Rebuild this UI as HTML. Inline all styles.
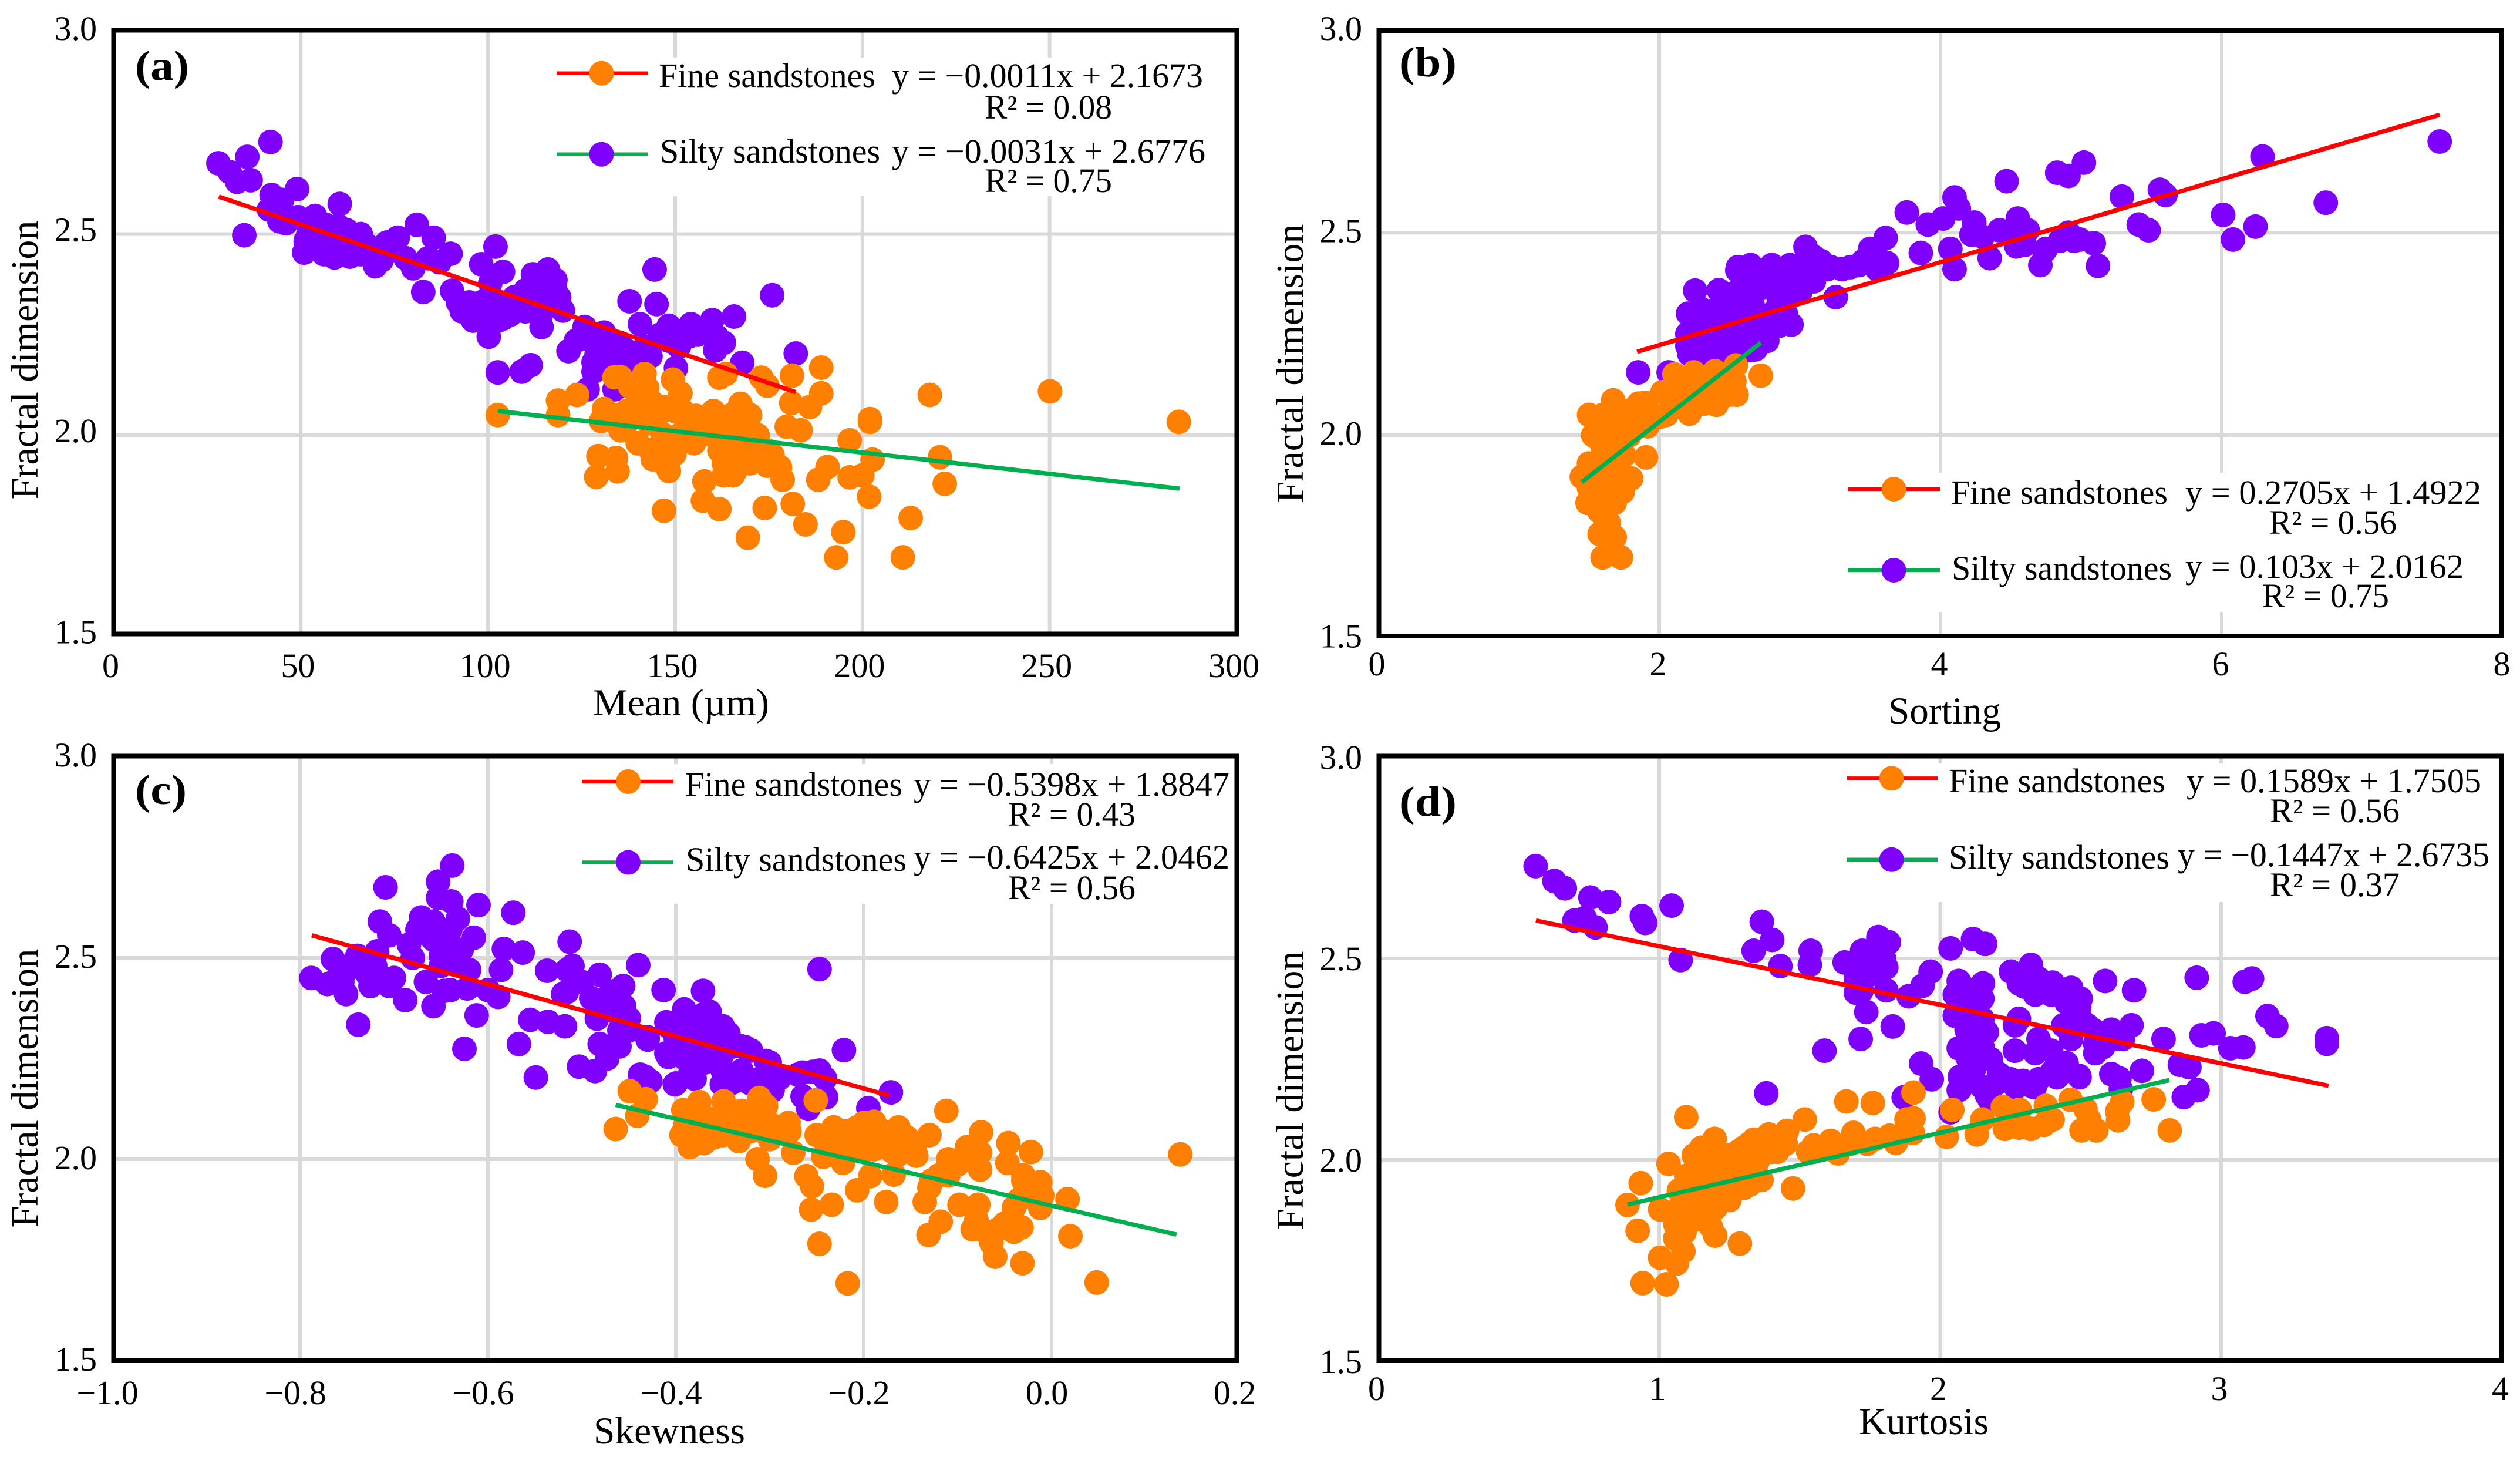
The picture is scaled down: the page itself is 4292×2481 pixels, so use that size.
<!DOCTYPE html>
<html lang="en">
<head>
<meta charset="utf-8">
<title>Fractal dimension versus grain-size parameters</title>
<style>
html,body{margin:0;padding:0;background:#fff;}
svg{display:block;}
text{font-family:"Liberation Serif",serif;fill:#000;}
.tick{font-size:58px;}
.leg{font-size:58px;}
.ttl{font-size:65px;}
.ytl{font-size:66px;}
.pl{font-size:72px;font-weight:bold;}
</style>
</head>
<body>
<svg id="figure" xmlns="http://www.w3.org/2000/svg" width="4292" height="2481" viewBox="0 0 4292 2481">
<rect x="0" y="0" width="4292" height="2481" fill="#fff"/>

<g id="panel-a"></g>
<g id="panel-b"></g>
<g id="panel-c"></g>
<g id="panel-d"></g>

<g>
<text class="pl" x="230" y="136" textLength="92" lengthAdjust="spacingAndGlyphs">(a)</text>
<line x1="948" y1="124.7" x2="1104" y2="124.7" stroke="#ff0000" stroke-width="6.5"/>
<circle cx="1024.5" cy="124.7" r="21" fill="#ff8000"/>
<text class="leg" x="1122" y="148" textLength="369" lengthAdjust="spacingAndGlyphs">Fine sandstones</text>
<text class="leg" x="1519" y="148" textLength="530" lengthAdjust="spacingAndGlyphs">y = −0.0011x + 2.1673</text>
<text class="leg" x="1677" y="202" textLength="217" lengthAdjust="spacingAndGlyphs">R² = 0.08</text>
<line x1="948" y1="262.7" x2="1104" y2="262.7" stroke="#00b050" stroke-width="6.5"/>
<circle cx="1024.5" cy="262.7" r="21" fill="#8000ff"/>
<text class="leg" x="1124" y="277" textLength="375" lengthAdjust="spacingAndGlyphs">Silty sandstones</text>
<text class="leg" x="1519" y="277" textLength="534" lengthAdjust="spacingAndGlyphs">y = −0.0031x + 2.6776</text>
<text class="leg" x="1677" y="327" textLength="217" lengthAdjust="spacingAndGlyphs">R² = 0.75</text>
<text class="ttl" x="1010" y="1218" textLength="300" lengthAdjust="spacingAndGlyphs">Mean (µm)</text>
<text class="ytl" transform="translate(64 613) rotate(-90)" text-anchor="middle">Fractal dimension</text>
</g>

<g>
<text class="pl" x="2383" y="130" textLength="98" lengthAdjust="spacingAndGlyphs">(b)</text>
<line x1="3148" y1="833" x2="3304" y2="833" stroke="#ff0000" stroke-width="6.5"/>
<circle cx="3225.5" cy="833" r="21" fill="#ff8000"/>
<text class="leg" x="3323" y="858" textLength="369" lengthAdjust="spacingAndGlyphs">Fine sandstones</text>
<text class="leg" x="3722" y="858" textLength="504" lengthAdjust="spacingAndGlyphs">y = 0.2705x + 1.4922</text>
<text class="leg" x="3865" y="909" textLength="217" lengthAdjust="spacingAndGlyphs">R² = 0.56</text>
<line x1="3148" y1="971" x2="3304" y2="971" stroke="#00b050" stroke-width="6.5"/>
<circle cx="3225.5" cy="971" r="21" fill="#8000ff"/>
<text class="leg" x="3324" y="987" textLength="375" lengthAdjust="spacingAndGlyphs">Silty sandstones</text>
<text class="leg" x="3722" y="984" textLength="474" lengthAdjust="spacingAndGlyphs">y = 0.103x + 2.0162</text>
<text class="leg" x="3853" y="1034" textLength="216" lengthAdjust="spacingAndGlyphs">R² = 0.75</text>
<text class="ttl" x="3216" y="1232" textLength="192" lengthAdjust="spacingAndGlyphs">Sorting</text>
<text class="ytl" transform="translate(2219 619) rotate(-90)" text-anchor="middle">Fractal dimension</text>
</g>

<g>
<text class="pl" x="230" y="1369" textLength="88" lengthAdjust="spacingAndGlyphs">(c)</text>
<line x1="992" y1="1331" x2="1147" y2="1331" stroke="#ff0000" stroke-width="6.5"/>
<circle cx="1070" cy="1331" r="21" fill="#ff8000"/>
<text class="leg" x="1167" y="1355" textLength="370" lengthAdjust="spacingAndGlyphs">Fine sandstones</text>
<text class="leg" x="1556" y="1355" textLength="538" lengthAdjust="spacingAndGlyphs">y = −0.5398x + 1.8847</text>
<text class="leg" x="1717" y="1406" textLength="217" lengthAdjust="spacingAndGlyphs">R² = 0.43</text>
<line x1="992" y1="1468.5" x2="1147" y2="1468.5" stroke="#00b050" stroke-width="6.5"/>
<circle cx="1070" cy="1468.5" r="21" fill="#8000ff"/>
<text class="leg" x="1168" y="1483" textLength="376" lengthAdjust="spacingAndGlyphs">Silty sandstones</text>
<text class="leg" x="1556" y="1479" textLength="538" lengthAdjust="spacingAndGlyphs">y = −0.6425x + 2.0462</text>
<text class="leg" x="1717" y="1531" textLength="217" lengthAdjust="spacingAndGlyphs">R² = 0.56</text>
<text class="ttl" x="1011" y="2458" textLength="258" lengthAdjust="spacingAndGlyphs">Skewness</text>
<text class="ytl" transform="translate(64 1853) rotate(-90)" text-anchor="middle">Fractal dimension</text>
</g>

<g>
<text class="pl" x="2383" y="1389" textLength="98" lengthAdjust="spacingAndGlyphs">(d)</text>
<line x1="3145" y1="1325.4" x2="3300" y2="1325.4" stroke="#ff0000" stroke-width="6.5"/>
<circle cx="3221.7" cy="1325.4" r="21" fill="#ff8000"/>
<text class="leg" x="3319" y="1349" textLength="369" lengthAdjust="spacingAndGlyphs">Fine sandstones</text>
<text class="leg" x="3724" y="1349" textLength="502" lengthAdjust="spacingAndGlyphs">y = 0.1589x + 1.7505</text>
<text class="leg" x="3866" y="1400" textLength="221" lengthAdjust="spacingAndGlyphs">R² = 0.56</text>
<line x1="3145" y1="1463.8" x2="3300" y2="1463.8" stroke="#00b050" stroke-width="6.5"/>
<circle cx="3221.7" cy="1463.8" r="21" fill="#8000ff"/>
<text class="leg" x="3319" y="1479" textLength="376" lengthAdjust="spacingAndGlyphs">Silty sandstones</text>
<text class="leg" x="3709" y="1475" textLength="531" lengthAdjust="spacingAndGlyphs">y = −0.1447x + 2.6735</text>
<text class="leg" x="3866" y="1526" textLength="221" lengthAdjust="spacingAndGlyphs">R² = 0.37</text>
<text class="ttl" x="3166" y="2442" textLength="221" lengthAdjust="spacingAndGlyphs">Kurtosis</text>
<text class="ytl" transform="translate(2219 1857) rotate(-90)" text-anchor="middle">Fractal dimension</text>
</g>
</svg>

<script>
/* ---------- tick labels ---------- */
const yTickValues = [3.0, 2.5, 2.0, 1.5];
const aXTicks = [0, 50, 100, 150, 200, 250, 300];
const bXTicks = [0, 2, 4, 6, 8];
const cXTicks = [-1.0, -0.8, -0.6, -0.4, -0.2, 0.0, 0.2];
const dXTicks = [0, 1, 2, 3, 4];

/* ---------- panel (a): mean vs fractal dimension ---------- */
const aSilty = [[28,2.676],[31,2.654],[33,2.63],[35.7,2.692],[41.9,2.729],[36.6,2.634],[34.9,2.497],[49,2.612],[42.2,2.597],[45,2.585],[41.5,2.561],[44.3,2.532],[46,2.527],[60.4,2.575],[49.2,2.542],[53.8,2.545],[56.6,2.523],[62.2,2.51],[65.4,2.494],[50.9,2.454],[51.3,2.483],[56.2,2.45],[59,2.442],[63.1,2.444],[66,2.45],[55,2.5],[60,2.48],[65,2.47],[70,2.45],[69.9,2.42],[71.6,2.435],[73,2.479],[75.9,2.491],[78,2.44],[81,2.523],[84,2.44],[85.5,2.491],[90,2.451],[80,2.415],[82.7,2.356],[87,2.43],[90.4,2.359],[98.2,2.425],[102,2.469],[104,2.406],[100.6,2.378],[93,2.308],[96,2.285],[100.2,2.245],[102.7,2.285],[98.4,2.331],[107,2.343],[112,2.4],[116,2.412],[118,2.386],[119,2.343],[112,2.378],[114,2.297],[114.3,2.269],[110,2.308],[103,2.331],[102.6,2.156],[109,2.158],[111.4,2.174],[137.8,2.333],[145,2.326],[175.9,2.348],[140.6,2.276],[148.3,2.272],[154.2,2.276],[159.9,2.286],[165.7,2.295],[161,2.246],[160.7,2.211],[153.8,2.246],[148.3,2.235],[140.3,2.206],[143.4,2.196],[150.2,2.167],[167.9,2.18],[182.2,2.203],[125.8,2.269],[131,2.255],[123.5,2.235],[121.5,2.209],[130.5,2.216],[128.2,2.181],[134,2.2],[128.2,2.158],[135,2.18],[126.6,2.114],[133.8,2.114],[144.5,2.412],[106,2.3],[100,2.3],[126,2.24],[52,2.5],[54,2.47],[58,2.5],[62,2.47],[66,2.5],[68,2.47],[72,2.46],[55,2.52],[60,2.52],[95,2.33],[100,2.34],[105,2.33],[108,2.31],[112,2.33],[116,2.33],[104,2.29],[98,2.3],[92,2.33],[118,2.36],[115,2.37],[110,2.36],[120,2.31],[127,2.24],[131,2.23],[135,2.23],[137,2.21],[133,2.18],[129,2.2],[138,2.19],[142,2.22],[146,2.25],[139,2.17],[156,2.25],[151,2.22],[163,2.23]];
const aFine = [[102.6,2.05],[123.8,2.1],[118.7,2.086],[118.7,2.05],[131,2.065],[130.2,2.035],[135.4,2.012],[135.4,2.144],[133.8,2.144],[141.8,2.152],[142.5,2.118],[141,2.085],[139.5,2.05],[144,2.08],[149.4,2.138],[151.4,2.104],[145.8,2.055],[161.8,2.143],[163.5,2.152],[173,2.143],[174.6,2.123],[181.2,2.148],[189,2.168],[189,2.104],[181,2.08],[186,2.07],[179.8,2.021],[183.5,2.012],[167.4,2.078],[160.2,2.06],[155.5,2.048],[150,2.06],[166.6,2.035],[167.4,2.012],[202,2.04],[202,2.033],[196.6,1.987],[146.7,2.002],[151.4,2.002],[153.8,1.99],[143.4,1.962],[147.5,1.948],[149.8,1.953],[148.3,1.911],[144,1.94],[129.5,1.948],[134.2,1.943],[128.9,1.896],[134.6,1.91],[147,1.812],[157.8,1.885],[157.4,1.837],[161.8,1.816],[161.8,1.962],[160,2.0],[165.4,1.9],[163,1.9],[169.8,1.962],[172,1.96],[174.6,1.962],[174.6,1.924],[178.7,1.889],[173.9,1.819],[181.4,1.829],[169.4,1.745],[184.8,1.778],[194.9,1.759],[193,1.696],[201.8,1.847],[190.7,1.921],[188.2,1.889],[196.6,1.895],[202.7,1.939],[200,1.9],[220.7,1.945],[222,1.879],[212.9,1.794],[210.8,1.696],[218,2.1],[250.1,2.109],[284.5,2.033],[170,2.0],[164,2.02],[158,2.02],[137,2.03],[143,2.03],[138,2.12],[140,2.1],[142,2.06],[147,2.07],[152,2.06],[137,2.06],[135,2.05],[140,1.98],[146,1.97],[150,1.98],[155,2.02],[165,2.05],[170,2.05],[168,2.04],[165,1.99],[172,2.0],[168,1.98],[176,1.95],[165,1.96],[170,1.93],[178,1.92],[163,1.93],[166,1.91],[155,1.98],[147,1.93]];
const aRedX = [28.1, 182.2];
const aRedY = [2.593, 2.107];
const aGreenX = [102.6, 284.7];
const aGreenY = [2.06, 1.867];

/* ---------- panel (b): sorting vs fractal dimension ---------- */
const bSilty = [[1.85,2.155],[2.067,2.155],[2.255,2.357],[2.424,2.358],[2.205,2.3],[2.555,2.407],[2.737,2.405],[2.927,2.405],[3.0,2.35],[2.94,2.273],[3.255,2.341],[2.28,2.261],[2.236,2.222],[2.45,2.267],[2.663,2.267],[2.768,2.233],[2.685,2.212],[2.514,2.2],[2.342,2.2],[2.215,2.2],[2.45,2.311],[2.663,2.322],[2.876,2.333],[2.555,2.355],[2.768,2.366],[2.98,2.377],[2.342,2.255],[2.3,2.311],[3.195,2.41],[2.56,2.415],[2.71,2.4],[2.93,2.42],[3.04,2.465],[3.1,2.44],[3.22,2.415],[3.36,2.415],[3.5,2.44],[3.61,2.487],[3.62,2.425],[3.76,2.55],[3.91,2.52],[3.86,2.45],[4.02,2.535],[4.1,2.587],[4.13,2.56],[4.07,2.46],[4.1,2.41],[4.24,2.525],[4.22,2.495],[4.35,2.437],[4.42,2.506],[4.47,2.627],[4.55,2.535],[4.62,2.506],[4.54,2.466],[4.71,2.42],[4.74,2.455],[4.83,2.648],[4.91,2.64],[5.02,2.673],[4.91,2.5],[4.99,2.483],[5.09,2.474],[5.12,2.418],[5.29,2.589],[5.41,2.52],[5.48,2.506],[5.56,2.606],[5.6,2.593],[6.01,2.544],[6.08,2.483],[6.24,2.515],[6.29,2.688],[6.74,2.574],[7.55,2.725],[3.42,2.42],[3.55,2.41],[2.2,2.25],[2.3,2.22],[2.35,2.28],[2.4,2.25],[2.5,2.25],[2.55,2.3],[2.6,2.25],[2.7,2.3],[2.75,2.28],[2.8,2.3],[2.85,2.33],[2.6,2.35],[2.7,2.36],[2.5,2.34],[2.4,2.31],[2.85,2.27],[2.9,2.3],[2.55,2.22],[2.45,2.21],[2.65,2.21],[2.2,2.22],[2.95,2.35],[3.05,2.38],[3.1,2.38],[2.85,2.38],[2.6,2.38],[2.8,2.42],[2.9,2.38],[3.0,2.42],[3.1,2.42],[2.65,2.42],[3.15,2.43],[3.45,2.43],[3.5,2.46],[3.58,2.43],[3.3,2.41],[4.3,2.49],[4.6,2.47],[4.75,2.46],[4.85,2.48],[4.95,2.48],[4.5,2.5]];
const bFine = [[1.597,1.698],[1.728,1.698],[1.576,1.756],[1.683,1.748],[1.64,1.784],[1.524,1.833],[1.683,1.833],[1.576,1.811],[1.49,1.833],[1.449,1.897],[1.8,1.893],[1.72,1.89],[1.906,1.945],[1.553,1.933],[1.553,1.994],[1.501,2.05],[1.672,2.086],[1.854,2.078],[2.023,2.106],[2.108,2.15],[2.246,2.155],[2.396,2.158],[2.534,2.133],[2.545,2.172],[2.722,2.147],[2.407,2.075],[2.215,2.053],[2.32,2.078],[2.0,2.045],[1.916,2.022],[1.789,2.0],[1.662,1.978],[1.704,1.933],[1.64,1.895],[1.789,2.061],[2.13,2.11],[2.25,2.11],[2.4,2.11],[2.514,2.155],[1.92,2.06],[1.82,2.02],[1.6,1.93],[1.6,1.86],[1.74,1.86],[1.62,2.0],[1.72,2.03],[2.3,2.12],[1.6,2.05],[1.7,2.05],[1.8,2.04],[1.6,1.97],[1.7,1.97],[1.85,2.05],[1.9,2.08],[1.6,1.9],[1.7,1.9],[1.55,1.87],[1.65,1.85],[1.6,1.82],[1.5,1.87],[1.95,2.05],[2.05,2.05],[2.1,2.08],[2.2,2.09],[2.3,2.13],[2.4,2.13],[2.5,2.1],[2.55,2.1],[1.75,1.95],[1.5,1.93],[1.53,2.0]];
const bRedX = [1.842, 7.55];
const bRedY = [2.206, 2.791];
const bGreenX = [1.449, 2.722];
const bGreenY = [1.884, 2.228];

/* ---------- panel (c): skewness vs fractal dimension ---------- */
const cSilty = [[-0.788,2.45],[-0.771,2.435],[-0.765,2.497],[-0.76,2.45],[-0.751,2.41],[-0.738,2.334],[-0.739,2.505],[-0.718,2.516],[-0.715,2.59],[-0.709,2.675],[-0.705,2.556],[-0.728,2.458],[-0.72,2.44],[-0.705,2.43],[-0.688,2.395],[-0.684,2.533],[-0.671,2.6],[-0.675,2.57],[-0.658,2.59],[-0.658,2.545],[-0.666,2.44],[-0.658,2.38],[-0.647,2.418],[-0.653,2.689],[-0.638,2.729],[-0.653,2.649],[-0.639,2.64],[-0.61,2.631],[-0.632,2.597],[-0.615,2.55],[-0.628,2.52],[-0.64,2.487],[-0.65,2.505],[-0.622,2.424],[-0.612,2.357],[-0.625,2.274],[-0.589,2.403],[-0.586,2.47],[-0.583,2.522],[-0.573,2.612],[-0.563,2.513],[-0.555,2.346],[-0.567,2.286],[-0.549,2.203],[-0.537,2.468],[-0.536,2.341],[-0.518,2.33],[-0.516,2.47],[-0.513,2.54],[-0.516,2.415],[-0.503,2.23],[-0.486,2.219],[-0.481,2.458],[-0.49,2.4],[-0.473,2.25],[-0.481,2.286],[-0.484,2.349],[-0.46,2.32],[-0.464,2.418],[-0.456,2.43],[-0.44,2.482],[-0.438,2.21],[-0.427,2.194],[-0.43,2.303],[-0.413,2.42],[-0.408,2.33],[-0.41,2.263],[-0.4,2.188],[-0.391,2.372],[-0.371,2.418],[-0.364,2.366],[-0.387,2.264],[-0.38,2.2],[-0.401,2.186],[-0.351,2.186],[-0.322,2.19],[-0.297,2.171],[-0.326,2.278],[-0.304,2.244],[-0.351,2.258],[-0.408,2.254],[-0.365,2.297],[-0.344,2.312],[-0.43,2.297],[-0.38,2.33],[-0.35,2.33],[-0.33,2.28],[-0.247,2.472],[-0.221,2.271],[-0.27,2.21],[-0.254,2.217],[-0.241,2.2],[-0.265,2.215],[-0.247,2.22],[-0.265,2.156],[-0.24,2.154],[-0.259,2.125],[-0.195,2.127],[-0.171,2.166],[-0.433,2.205],[-0.4,2.3],[-0.38,2.28],[-0.36,2.3],[-0.34,2.28],[-0.32,2.27],[-0.3,2.24],[-0.39,2.25],[-0.37,2.24],[-0.35,2.22],[-0.33,2.22],[-0.31,2.2],[-0.29,2.2],[-0.36,2.34],[-0.37,2.36],[-0.39,2.34],[-0.385,2.21],[-0.34,2.19],[-0.41,2.34],[-0.45,2.35],[-0.46,2.28],[-0.66,2.55],[-0.67,2.57],[-0.645,2.53],[-0.64,2.57],[-0.65,2.48],[-0.68,2.5],[-0.72,2.48],[-0.725,2.43],[-0.7,2.45],[-0.64,2.42],[-0.62,2.47],[-0.6,2.42],[-0.51,2.48],[-0.5,2.44],[-0.52,2.41],[-0.47,2.37],[-0.455,2.38],[-0.47,2.41],[-0.45,2.32],[-0.73,2.49],[-0.755,2.44],[-0.75,2.47]];
const cFine = [[-0.464,2.075],[-0.449,2.169],[-0.432,2.149],[-0.441,2.108],[-0.392,2.122],[-0.375,2.142],[-0.349,2.144],[-0.39,2.084],[-0.385,2.03],[-0.394,2.06],[-0.36,2.054],[-0.333,2.045],[-0.311,2.152],[-0.304,2.132],[-0.319,2.108],[-0.279,2.069],[-0.275,2.016],[-0.313,2.0],[-0.305,1.959],[-0.297,2.084],[-0.35,2.09],[-0.325,2.1],[-0.251,2.146],[-0.232,2.079],[-0.25,2.06],[-0.189,2.093],[-0.207,2.079],[-0.163,2.079],[-0.13,2.06],[-0.154,2.054],[-0.218,2.035],[-0.189,2.025],[-0.164,2.01],[-0.144,2.009],[-0.243,2.006],[-0.222,1.991],[-0.261,1.958],[-0.255,1.933],[-0.207,1.923],[-0.193,1.958],[-0.168,1.962],[-0.176,1.894],[-0.256,1.875],[-0.234,1.887],[-0.247,1.79],[-0.217,1.692],[-0.131,1.812],[-0.118,1.845],[-0.098,1.887],[-0.078,1.887],[-0.135,1.894],[-0.128,1.947],[-0.1,1.987],[-0.076,1.974],[-0.075,2.067],[-0.076,2.016],[-0.112,2.12],[-0.046,2.04],[-0.047,1.991],[-0.022,2.018],[-0.03,1.947],[-0.012,1.943],[-0.035,1.899],[-0.012,1.879],[0.017,1.901],[0.02,1.809],[-0.032,1.831],[-0.057,1.826],[-0.084,1.826],[-0.06,1.758],[-0.031,1.742],[0.048,1.694],[-0.064,1.792],[0.137,2.012],[-0.21,2.06],[-0.18,2.05],[-0.11,2.0],[-0.09,2.01],[-0.375,2.1],[-0.36,2.1],[-0.34,2.08],[-0.32,2.07],[-0.3,2.05],[-0.29,2.07],[-0.35,2.06],[-0.37,2.04],[-0.33,2.12],[-0.31,2.1],[-0.28,2.09],[-0.385,2.05],[-0.38,2.08],[-0.23,2.04],[-0.21,2.05],[-0.19,2.04],[-0.17,2.04],[-0.22,2.07],[-0.2,2.09],[-0.18,2.07],[-0.15,2.03],[-0.17,2.02],[-0.145,2.04],[-0.24,2.04],[-0.2,2.02],[-0.185,2.07],[-0.16,2.05],[-0.09,2.0],[-0.08,1.99],[-0.09,2.03],[-0.105,1.99],[-0.03,1.96],[-0.02,1.93],[-0.01,1.91],[-0.03,1.91],[-0.04,1.88],[-0.08,1.85],[-0.07,1.82],[-0.05,1.84],[-0.04,1.82],[-0.13,1.93],[-0.12,1.96],[-0.11,1.96]];
const cRedX = [-0.7875, -0.1725];
const cRedY = [2.556, 2.158];
const cGreenX = [-0.464, 0.133];
const cGreenY = [2.135, 1.813];

/* ---------- panel (d): kurtosis vs fractal dimension ---------- */
const dSilty = [[0.56,2.729],[0.627,2.692],[0.664,2.674],[0.755,2.651],[0.821,2.64],[0.698,2.594],[0.735,2.6],[0.773,2.577],[0.938,2.605],[0.95,2.588],[1.044,2.631],[1.076,2.496],[1.365,2.591],[1.402,2.546],[1.336,2.519],[1.431,2.481],[1.539,2.519],[1.536,2.484],[1.7,2.415],[1.737,2.367],[1.66,2.49],[1.722,2.519],[1.78,2.553],[1.817,2.54],[1.808,2.478],[1.808,2.421],[1.888,2.406],[1.937,2.432],[1.966,2.467],[1.831,2.331],[1.717,2.3],[1.588,2.271],[1.381,2.165],[2.037,2.525],[2.117,2.548],[2.16,2.536],[2.066,2.444],[2.052,2.41],[2.152,2.438],[2.052,2.358],[2.094,2.323],[2.152,2.277],[2.066,2.277],[2.166,2.317],[2.252,2.467],[2.323,2.484],[2.28,2.438],[2.338,2.41],[2.395,2.41],[2.466,2.427],[2.495,2.38],[2.587,2.444],[2.69,2.421],[2.438,2.334],[2.524,2.334],[2.609,2.323],[2.681,2.334],[2.466,2.3],[2.552,2.288],[2.795,2.3],[2.718,2.221],[2.853,2.236],[2.887,2.23],[2.867,2.156],[2.916,2.173],[2.913,2.452],[3.084,2.442],[3.11,2.45],[3.165,2.357],[3.196,2.332],[2.93,2.309],[2.973,2.314],[3.033,2.277],[3.079,2.279],[3.376,2.288],[3.376,2.302],[2.266,2.334],[2.266,2.271],[2.338,2.265],[2.395,2.271],[2.495,2.208],[2.409,2.208],[2.295,2.196],[2.209,2.213],[2.123,2.23],[2.066,2.173],[2.166,2.161],[2.323,2.184],[2.609,2.213],[2.638,2.202],[2.552,2.265],[1.932,2.239],[1.97,2.2],[1.87,2.155],[2.037,2.118],[2.07,2.175],[2.11,2.277],[2.12,2.226],[2.176,2.149],[2.269,2.18],[2.416,2.205],[2.496,2.205],[2.643,2.175],[2.336,2.18],[2.203,2.195],[2.07,2.206],[2.1,2.33],[2.15,2.35],[2.1,2.25],[2.18,2.25],[2.12,2.2],[2.2,2.19],[2.25,2.2],[2.35,2.2],[2.4,2.22],[2.45,2.24],[2.15,2.18],[2.1,2.38],[2.15,2.4],[2.08,2.43],[2.35,2.45],[2.4,2.44],[2.3,2.43],[2.45,2.39],[2.5,2.4],[2.5,2.35],[2.55,2.32],[2.58,2.28],[2.62,2.3],[2.65,2.3],[2.28,2.35],[2.35,2.3],[2.1,2.3],[1.72,2.48],[1.75,2.46],[1.78,2.5],[1.8,2.5],[1.7,2.45],[1.72,2.42]];
const dFine = [[0.887,1.888],[0.934,1.942],[0.923,1.824],[0.941,1.694],[1.026,1.691],[1.003,1.757],[1.063,1.743],[1.086,1.773],[1.096,2.106],[1.033,1.99],[1.199,1.812],[1.183,1.835],[1.287,1.792],[1.476,1.929],[1.518,2.1],[1.666,2.145],[1.76,2.141],[1.905,2.167],[1.905,2.103],[2.817,2.073],[2.76,2.15],[2.648,2.144],[2.633,2.098],[2.556,2.073],[2.503,2.073],[2.517,2.126],[2.464,2.149],[2.376,2.134],[2.369,2.087],[2.283,2.124],[2.223,2.131],[2.323,2.077],[2.23,2.077],[2.15,2.1],[2.13,2.063],[2.043,2.124],[2.023,2.057],[1.903,2.067],[1.842,2.042],[1.769,2.052],[1.691,2.067],[1.61,2.047],[1.55,2.036],[1.53,2.02],[1.636,2.016],[1.455,2.072],[1.337,2.05],[1.39,2.063],[1.197,2.052],[1.123,2.011],[1.243,2.011],[1.35,1.996],[1.364,1.95],[1.323,1.939],[1.256,1.97],[1.177,1.97],[1.096,1.96],[1.216,1.894],[1.07,1.924],[1.003,1.877],[1.11,1.887],[1.057,1.841],[1.057,1.805],[1.09,1.82],[1.16,1.92],[1.2,2.0],[1.3,2.03],[1.14,1.87],[1.42,2.02],[1.15,2.03],[1.25,1.9],[1.12,1.97],[1.16,2.03],[1.22,2.0],[1.25,1.95],[1.2,1.95],[1.12,1.93],[1.28,1.98],[1.15,1.9],[1.2,1.88],[1.23,1.9],[1.3,1.93],[1.32,2.0],[1.32,2.04],[1.38,2.03],[1.4,2.02],[1.12,1.85],[1.08,1.85],[1.08,1.82],[1.05,1.87],[1.15,2.0],[1.28,2.02],[1.45,2.04],[1.55,2.02],[1.6,2.03],[1.68,2.04],[1.74,2.04],[1.82,2.06],[1.88,2.1],[2.28,2.08],[2.4,2.1],[2.63,2.12],[2.53,2.1]];
const dRedX = [0.561, 3.382];
const dRedY = [2.594, 2.184];
const dGreenX = [0.887, 2.816];
const dGreenY = [1.889, 2.198];

/* ---------- layout (pixels, not data) ---------- */
const panels = [
  {id:'panel-a', frame:[193.5,51.5,2106.5,1079.5], xPx:[193.5,2106.5], xDom:[0,300], yPx:[56.2,1083.4], xTicks:aXTicks, fmt:function(v){return String(v);}, silty:aSilty, fine:aFine, redX:aRedX, redY:aRedY, greenX:aGreenX, greenY:aGreenY, box:[935,98,1165,236], xBase:1153, xNudge:-5, yRight:165, yNudge:12},
  {id:'panel-b', frame:[2348.5,52,4260,1083], xPx:[2347,4263], xDom:[0,8], yPx:[51.4,1085.8], xTicks:bXTicks, fmt:function(v){return String(v);}, silty:bSilty, fine:bFine, redX:bRedX, redY:bRedY, greenX:bGreenX, greenY:bGreenY, box:[3135,805,1115,237], xBase:1150, xNudge:-2, yRight:2320, yNudge:16.5},
  {id:'panel-c', frame:[193.5,1287.5,2106.5,2317], xPx:[191,2111], xDom:[-1,0.2], yPx:[1288,2317], xTicks:cXTicks, fmt:function(v){return v.toFixed(1).replace('-','\u2212');}, silty:cSilty, fine:cFine, redX:cRedX, redY:cRedY, greenX:cGreenX, greenY:cGreenY, box:[980,1301,1120,238], xBase:2391, xNudge:-8, yRight:165, yNudge:17},
  {id:'panel-d', frame:[2348.5,1287.5,4260,2317], xPx:[2347.5,4261.5], xDom:[0,4], yPx:[1289,2318], xTicks:dXTicks, fmt:function(v){return String(v);}, silty:dSilty, fine:dFine, redX:dRedX, redY:dRedY, greenX:dGreenX, greenY:dGreenY, box:[3135,1300,1118,236], xBase:2384, xNudge:-3, yRight:2320, yNudge:20}
];

const NS = 'http://www.w3.org/2000/svg';
const MARKER_R = 21;

function drawPanel(p) {
  const root = document.getElementById(p.id);
  function X(v) { return p.xPx[0] + (v - p.xDom[0]) / (p.xDom[1] - p.xDom[0]) * (p.xPx[1] - p.xPx[0]); }
  function Y(v) { return p.yPx[0] + (3.0 - v) / 1.5 * (p.yPx[1] - p.yPx[0]); }

  p.xTicks.forEach(function (t, i) {
    if (i === 0 || i === p.xTicks.length - 1) return;
    const el = document.createElementNS(NS, 'line');
    
    
    el.setAttribute('x1', X(t)); el.setAttribute('x2', X(t));
    el.setAttribute('y1', p.frame[1]); el.setAttribute('y2', p.frame[3]);
    el.setAttribute('stroke', '#d9d9d9'); el.setAttribute('stroke-width', 6);
    root.appendChild(el);
  });
  yTickValues.forEach(function (t, i) {
    if (i === 0 || i === yTickValues.length - 1) return;
    const el = document.createElementNS(NS, 'line');
    
    
    el.setAttribute('x1', p.frame[0]); el.setAttribute('x2', p.frame[2]);
    el.setAttribute('y1', Y(t)); el.setAttribute('y2', Y(t));
    el.setAttribute('stroke', '#d9d9d9'); el.setAttribute('stroke-width', 6);
    root.appendChild(el);
  });

  const box = document.createElementNS(NS, 'rect');
  
  
  box.setAttribute('x', p.box[0]); box.setAttribute('y', p.box[1]);
  box.setAttribute('width', p.box[2]); box.setAttribute('height', p.box[3]);
  box.setAttribute('fill', '#ffffff');
  root.appendChild(box);

  p.silty.forEach(function (d) {
    const el = document.createElementNS(NS, 'circle');
    
    
    el.setAttribute('cx', X(d[0])); el.setAttribute('cy', Y(d[1]));
    el.setAttribute('r', MARKER_R); el.setAttribute('fill', '#8000ff');
    root.appendChild(el);
  });
  p.fine.forEach(function (d) {
    const el = document.createElementNS(NS, 'circle');
    
    
    el.setAttribute('cx', X(d[0])); el.setAttribute('cy', Y(d[1]));
    el.setAttribute('r', MARKER_R); el.setAttribute('fill', '#ff8000');
    root.appendChild(el);
  });

  const red = document.createElementNS(NS, 'line');
  
  
  red.setAttribute('x1', X(p.redX[0])); red.setAttribute('y1', Y(p.redY[0]));
  red.setAttribute('x2', X(p.redX[1])); red.setAttribute('y2', Y(p.redY[1]));
  red.setAttribute('stroke', '#ff0000'); red.setAttribute('stroke-width', 7.5);
  root.appendChild(red);

  const green = document.createElementNS(NS, 'line');
  
  
  green.setAttribute('x1', X(p.greenX[0])); green.setAttribute('y1', Y(p.greenY[0]));
  green.setAttribute('x2', X(p.greenX[1])); green.setAttribute('y2', Y(p.greenY[1]));
  green.setAttribute('stroke', '#00b050'); green.setAttribute('stroke-width', 7.5);
  root.appendChild(green);

  const frame = document.createElementNS(NS, 'rect');
  
  
  frame.setAttribute('x', p.frame[0]); frame.setAttribute('y', p.frame[1]);
  frame.setAttribute('width', p.frame[2] - p.frame[0]); frame.setAttribute('height', p.frame[3] - p.frame[1]);
  frame.setAttribute('fill', 'none'); frame.setAttribute('stroke', '#000'); frame.setAttribute('stroke-width', 8);
  root.appendChild(frame);

  p.xTicks.forEach(function (t) {
    const el = document.createElementNS(NS, 'text');
    
    
    el.setAttribute('class', 'tick');
    el.setAttribute('x', X(t) + p.xNudge); el.setAttribute('y', p.xBase);
    el.setAttribute('text-anchor', 'middle');
    el.textContent = p.fmt(t);
    root.appendChild(el);
  });
  yTickValues.forEach(function (t) {
    const el = document.createElementNS(NS, 'text');
    
    
    el.setAttribute('class', 'tick');
    el.setAttribute('x', p.yRight); el.setAttribute('y', Y(t) + p.yNudge);
    el.setAttribute('text-anchor', 'end');
    el.textContent = t.toFixed(1);
    root.appendChild(el);
  });
}
panels.forEach(drawPanel);
</script>
</body>
</html>
